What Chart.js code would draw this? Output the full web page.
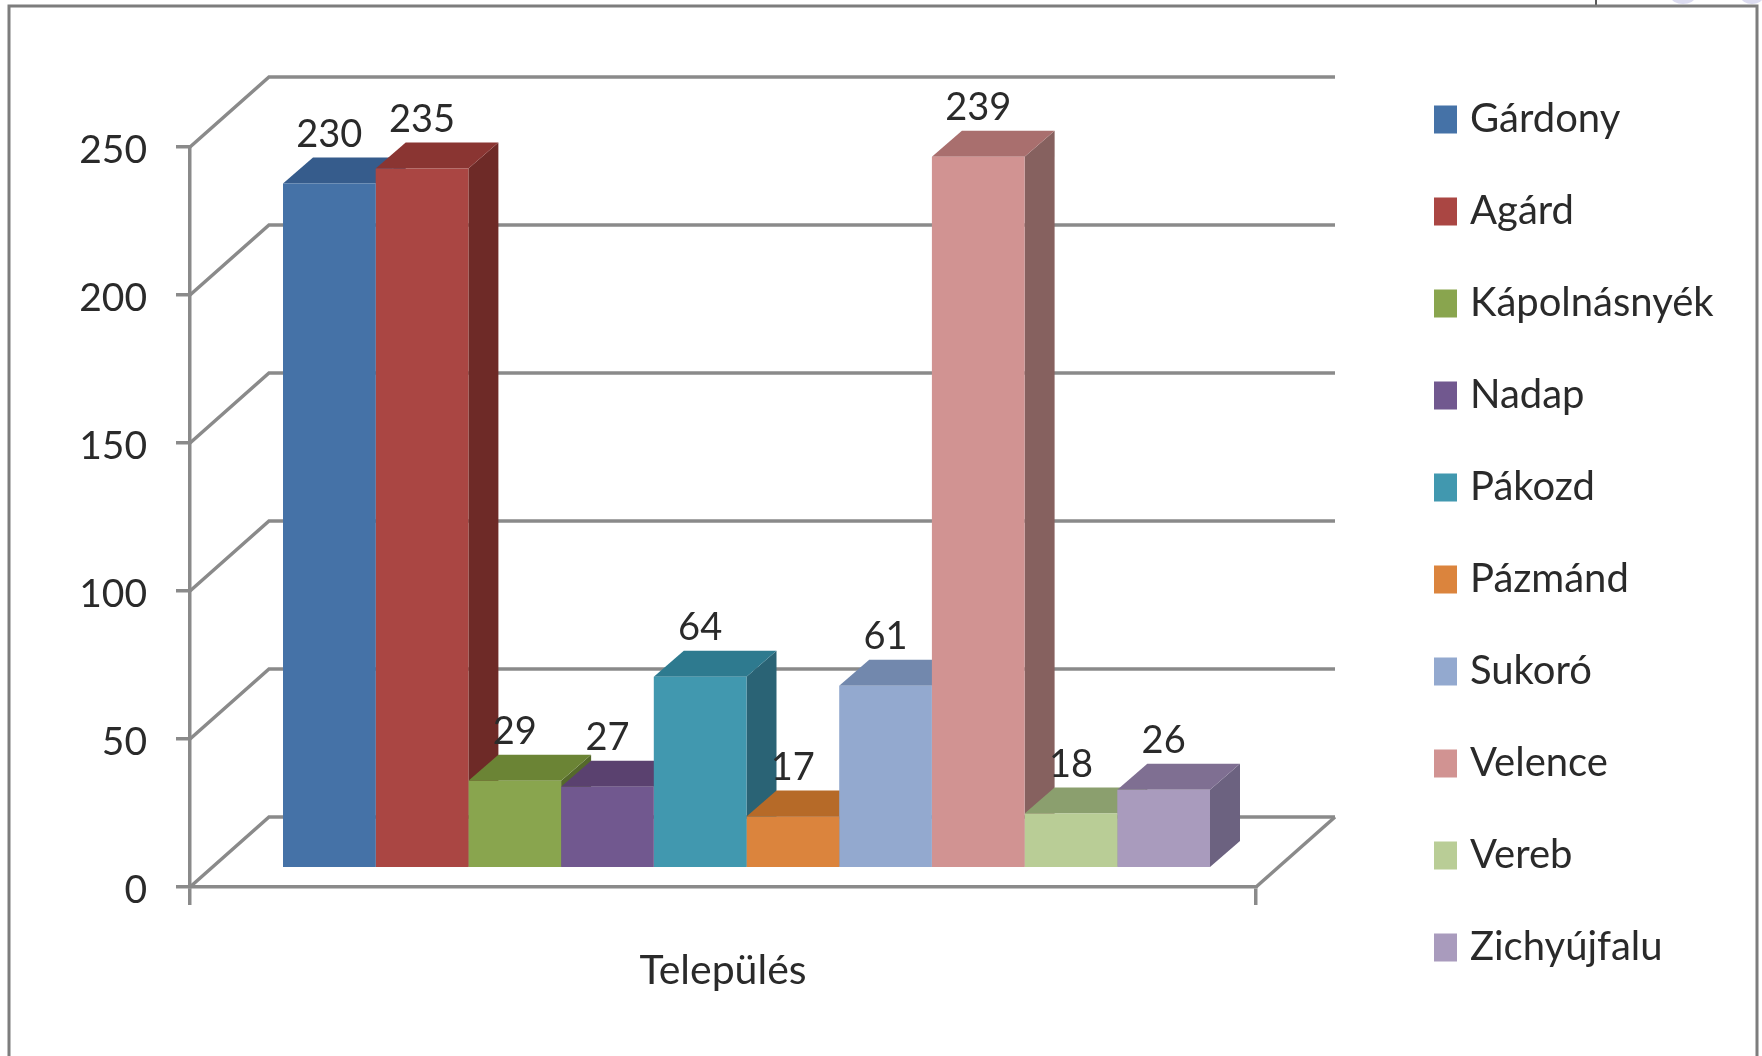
<!DOCTYPE html>
<html><head><meta charset="utf-8">
<style>html,body{margin:0;padding:0;background:#fff}canvas{display:block;filter:blur(0.6px)}</style>
<script src="https://cdn.jsdelivr.net/npm/chart.js@4"></script>
</head><body><canvas id="c" width="1762" height="1056"></canvas>
<script>
const categories = ['Település'];
const seriesNames = ['Gárdony','Agárd','Kápolnásnyék','Nadap','Pákozd','Pázmánd','Sukoró','Velence','Vereb','Zichyújfalu'];
const seriesValues = [230,235,29,27,64,17,61,239,18,26];
const frontColors = ['#4572A7','#AA4643','#89A54E','#71588F','#4198AF','#DB843D','#93A9CF','#D19392','#B9CD96','#A99BBD'];
const topColors   = ['#365C8C','#8A3532','#6B8435','#5A416F','#2E7A8F','#B66A28','#7288AD','#A96F6E','#8B9F6E','#7F6F92'];
const sideColors  = ['#2B4A70','#6E2A27','#55692B','#483459','#2A6375','#91541F','#5B6D8A','#86615F','#6F7F58','#6C6280'];
const yTicks = [0,50,100,150,200,250];

const FONT = 'Lato';
const FS = 38, GRAY = '#8a8a8a', TEXT = '#2a2a2a';
const BAR_SHIFT_X = 23.5, BAR_SHIFT_Y = -20, DEPTH_X = 30, DEPTH_Y = 26;
const WALL_X = 79, WALL_Y = 70;

function poly(ctx, pts, fill){
  ctx.beginPath(); ctx.moveTo(pts[0][0],pts[0][1]);
  for(let i=1;i<pts.length;i++) ctx.lineTo(pts[i][0],pts[i][1]);
  ctx.closePath(); ctx.fillStyle=fill; ctx.fill();
}

const scene = {
  id:'scene',
  afterLayout(chart){
    const l = chart.legend, pad = chart.options.plugins.legend.labels.padding;
    l.left = 1441 - pad; l.right = 1762; l.top = 99.5 - pad; l.bottom = 1056;
    l.width = l.right-l.left; l.height = l.bottom-l.top;
  },
  beforeDraw(chart){
    const c = chart.ctx; c.save();
    c.fillStyle='#dcdcf0';
    c.beginPath(); c.ellipse(1683,-3,12,7,0,0,7); c.fill();
    c.beginPath(); c.ellipse(1752,-3,11,7,0,0,7); c.fill();
    c.strokeStyle='#222'; c.lineWidth=1.5; c.beginPath(); c.moveTo(1596,0); c.lineTo(1596,5); c.stroke();
    c.strokeStyle='#7d7d7d'; c.lineWidth=3;
    c.beginPath(); c.moveTo(9,1056); c.lineTo(9,6); c.lineTo(1757,6); c.lineTo(1757,1056); c.stroke();
    const y = chart.scales.y, a = chart.chartArea;
    c.strokeStyle=GRAY; c.lineWidth=3.5;
    yTicks.forEach(v=>{
      const p = y.getPixelForValue(v);
      c.beginPath(); c.moveTo(a.left,p); c.lineTo(a.left+WALL_X,p-WALL_Y); c.lineTo(a.right+WALL_X,p-WALL_Y); c.stroke();
    });
    const p0 = y.getPixelForValue(0);
    c.beginPath(); c.moveTo(a.right,p0); c.lineTo(a.right+WALL_X,p0-WALL_Y); c.stroke();
    c.restore();
    // the value labels sit a little below their tick marks in the reference
    y.getLabelItems().forEach(it=>{ if(!it.shifted){ it.options.translation[1]+=3; it.shifted=true; } });
  },
  beforeDatasetsDraw(chart){
    const c = chart.ctx; c.save(); c.translate(BAR_SHIFT_X,BAR_SHIFT_Y);
    seriesValues.forEach((v,i)=>{
      const e = chart.getDatasetMeta(i).data[0];
      const L=e.x-e.width/2, R=e.x+e.width/2, T=e.y, B=e.base;
      poly(c,[[R,T],[R+DEPTH_X,T-DEPTH_Y],[R+DEPTH_X,B-DEPTH_Y],[R,B]],sideColors[i]);
      poly(c,[[L,T],[L+DEPTH_X,T-DEPTH_Y],[R+DEPTH_X,T-DEPTH_Y],[R,T]],topColors[i]);
    });
  },
  afterDatasetsDraw(chart){
    const c = chart.ctx;
    c.font = FS+'px '+FONT; c.fillStyle=TEXT; c.textAlign='center'; c.textBaseline='middle';
    seriesValues.forEach((v,i)=>{
      const e = chart.getDatasetMeta(i).data[0];
      c.fillText(String(v), e.x, e.y-49);
    });
    c.restore();
  }
};

new Chart(document.getElementById('c'),{
  type:'bar',
  data:{labels:categories,datasets:seriesNames.map((n,i)=>({
    label:n,data:[seriesValues[i]],backgroundColor:frontColors[i],borderWidth:0,yAxisID:'barY',
    categoryPercentage:0.8696,barPercentage:1,clip:false
  }))},
  plugins:[scene],
  options:{
    responsive:false,animation:false,
    layout:{padding:{left:0,top:147,right:506,bottom:0}},
    plugins:{
      tooltip:{enabled:false},
      legend:{
        position:'chartArea',align:'start',
        labels:{
          font:{family:FONT,size:40},color:TEXT,boxWidth:9,boxHeight:14,padding:52,
          generateLabels(chart){
            return seriesNames.map((n,i)=>({text:n,fillStyle:frontColors[i],strokeStyle:frontColors[i],lineWidth:14,datasetIndex:i,fontColor:TEXT}));
          }
        }
      }
    },
    scales:{
      x:{
        afterFit(s){s.height=169;},
        grid:{drawOnChartArea:false,color:GRAY,lineWidth:3.5,tickLength:18},
        border:{color:GRAY,width:3.5},
        ticks:{font:{family:FONT,size:41},color:TEXT,padding:41,maxRotation:0}
      },
      y:{
        min:0,max:250,
        afterFit(s){s.width=190;},
        afterBuildTicks(s){s.ticks=yTicks.map(v=>({value:v}));},
        grid:{drawOnChartArea:false,color:GRAY,lineWidth:3.5,tickLength:14},
        border:{color:GRAY,width:3.5},
        ticks:{font:{family:FONT,size:39},color:TEXT,padding:29}
      },
      barY:{display:false,min:0,max:249}
    }
  }
});
</script></body></html>
